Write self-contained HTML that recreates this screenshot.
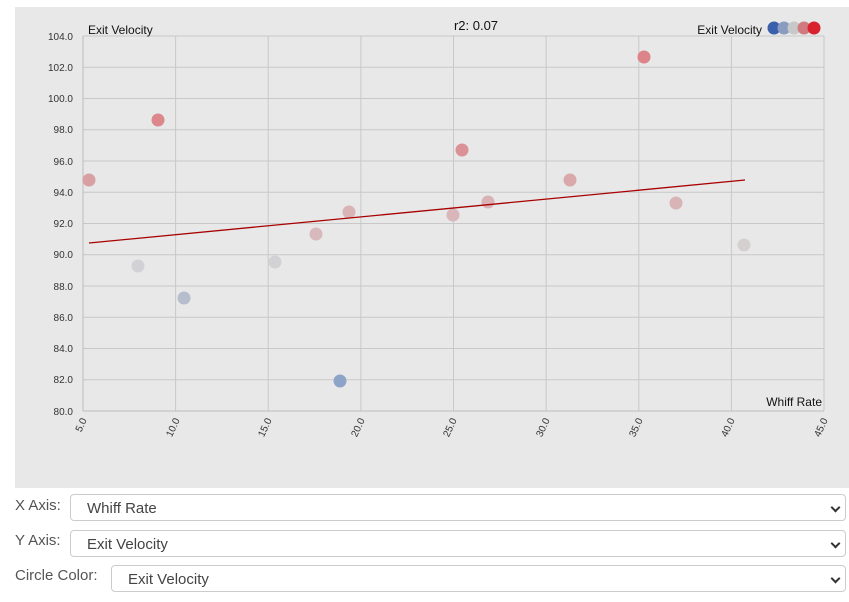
<!DOCTYPE html>
<html><head><style>
body{margin:0;width:849px;height:602px;background:#fff;position:relative;overflow:hidden;font-family:"Liberation Sans",sans-serif}
.lbl{position:absolute;left:15px;font-size:15px;color:#555}
.sel{position:absolute;height:27px;border:1px solid #ccc;border-radius:4px;background:#fff;font-size:15px;color:#444;box-sizing:border-box;padding:5px 0 0 16px}
.sel:after{content:"";position:absolute;right:6px;top:9px;width:5px;height:5px;border-right:2px solid #333;border-bottom:2px solid #333;transform:rotate(45deg)}
</style></head><body>
<svg width="849" height="602" style="position:absolute;left:0;top:0" font-family="Liberation Sans, sans-serif">
<rect x="15" y="7" width="834" height="481" fill="#e8e8e8"/>
<g stroke="#c8c8c8" stroke-width="1">
<line x1="175.6" y1="36" x2="175.6" y2="411"/><line x1="268.2" y1="36" x2="268.2" y2="411"/><line x1="360.9" y1="36" x2="360.9" y2="411"/><line x1="453.5" y1="36" x2="453.5" y2="411"/><line x1="546.1" y1="36" x2="546.1" y2="411"/><line x1="638.8" y1="36" x2="638.8" y2="411"/><line x1="731.4" y1="36" x2="731.4" y2="411"/><line x1="824" y1="36" x2="824" y2="411"/>
<line x1="83" y1="36" x2="824" y2="36"/><line x1="83" y1="67.25" x2="824" y2="67.25"/><line x1="83" y1="98.5" x2="824" y2="98.5"/><line x1="83" y1="129.75" x2="824" y2="129.75"/><line x1="83" y1="161" x2="824" y2="161"/><line x1="83" y1="192.25" x2="824" y2="192.25"/><line x1="83" y1="223.5" x2="824" y2="223.5"/><line x1="83" y1="254.75" x2="824" y2="254.75"/><line x1="83" y1="286" x2="824" y2="286"/><line x1="83" y1="317.25" x2="824" y2="317.25"/><line x1="83" y1="348.5" x2="824" y2="348.5"/><line x1="83" y1="379.75" x2="824" y2="379.75"/>
</g>
<line x1="83" y1="36" x2="83" y2="411" stroke="#bbb"/><line x1="83" y1="411" x2="824" y2="411" stroke="#bbb"/>
<g font-size="10" fill="#333" text-anchor="end">
<text x="73" y="40">104.0</text><text x="73" y="71">102.0</text><text x="73" y="102">100.0</text><text x="73" y="133">98.0</text><text x="73" y="165">96.0</text><text x="73" y="196">94.0</text><text x="73" y="227">92.0</text><text x="73" y="258">90.0</text><text x="73" y="290">88.0</text><text x="73" y="321">86.0</text><text x="73" y="352">84.0</text><text x="73" y="383">82.0</text><text x="73" y="415">80.0</text>
</g>
<g font-size="10" fill="#333" text-anchor="end">
<text transform="translate(87,420) rotate(-65)">5.0</text><text transform="translate(180,420) rotate(-65)">10.0</text><text transform="translate(272,420) rotate(-65)">15.0</text><text transform="translate(365,420) rotate(-65)">20.0</text><text transform="translate(457,420) rotate(-65)">25.0</text><text transform="translate(550,420) rotate(-65)">30.0</text><text transform="translate(643,420) rotate(-65)">35.0</text><text transform="translate(735,420) rotate(-65)">40.0</text><text transform="translate(828,420) rotate(-65)">45.0</text>
</g>
<text x="88" y="34" font-size="12" fill="#111">Exit Velocity</text>
<text x="476" y="30" font-size="13" fill="#111" text-anchor="middle">r2: 0.07</text>
<text x="762" y="34" font-size="12" fill="#111" text-anchor="end">Exit Velocity</text>
<circle cx="774" cy="28" r="6.5" fill="#3a5fab"/><circle cx="784" cy="28" r="6.5" fill="#8a9cc0"/><circle cx="794" cy="28" r="6.5" fill="#c8c8c8"/><circle cx="804" cy="28" r="6.5" fill="#d07a80"/><circle cx="814" cy="28" r="6.5" fill="#d8232e"/>
<text x="822" y="406" font-size="12" fill="#111" text-anchor="end">Whiff Rate</text>
<g>
<circle cx="89" cy="180" r="6.5" fill="#d9a0a4"/>
<circle cx="138" cy="266" r="6.5" fill="#d2d2d6"/>
<circle cx="158" cy="120" r="6.5" fill="#dc878c"/>
<circle cx="184" cy="298" r="6.5" fill="#b6bdcc"/>
<circle cx="275" cy="262" r="6.5" fill="#d2d2d4"/>
<circle cx="316" cy="234" r="6.5" fill="#d8babd"/>
<circle cx="340" cy="381" r="6.5" fill="#8ea3c8"/>
<circle cx="349" cy="212" r="6.5" fill="#d8b4b7"/>
<circle cx="453" cy="215" r="6.5" fill="#d8b6b9"/>
<circle cx="462" cy="150" r="6.5" fill="#da9296"/>
<circle cx="488" cy="202" r="6.5" fill="#d8b2b5"/>
<circle cx="570" cy="180" r="6.5" fill="#d8a8ab"/>
<circle cx="644" cy="57" r="6.5" fill="#dc8489"/>
<circle cx="676" cy="203" r="6.5" fill="#d8b4b7"/>
<circle cx="744" cy="245" r="6.5" fill="#d4d0d0"/>
</g>
<line x1="89" y1="243" x2="745" y2="180" stroke="#a80000" stroke-width="1.3"/>
</svg>
<div class="lbl" style="top:497px">X Axis:</div>
<div class="sel" style="left:70px;top:494px;width:776px">Whiff Rate</div>
<div class="lbl" style="top:532px">Y Axis:</div>
<div class="sel" style="left:70px;top:530px;width:776px">Exit Velocity</div>
<div class="lbl" style="top:567px">Circle Color:</div>
<div class="sel" style="left:111px;top:565px;width:735px">Exit Velocity</div>
</body></html>
